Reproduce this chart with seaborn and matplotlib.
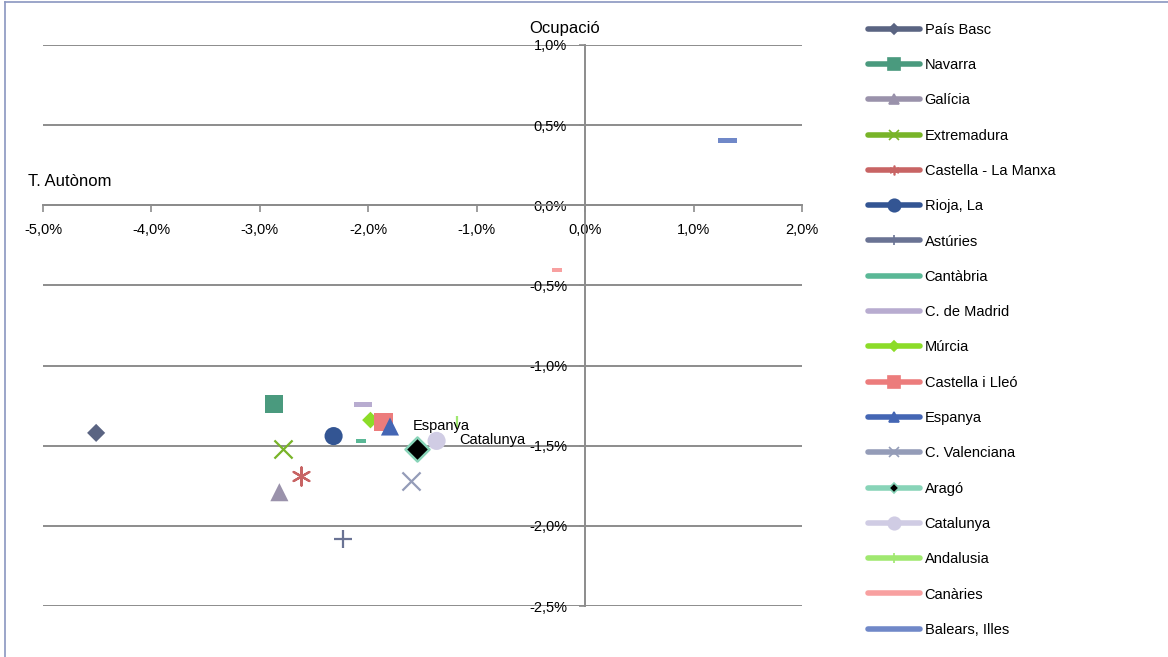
import matplotlib
matplotlib.use("Agg")
import matplotlib.pyplot as plt
import seaborn as sns
import pandas as pd
from matplotlib.lines import Line2D
from matplotlib.ticker import FuncFormatter, MultipleLocator

regions = ["País Basc", "Navarra", "Galícia", "Extremadura", "Castella - La Manxa",
           "Rioja, La", "Astúries", "Cantàbria", "C. de Madrid", "Múrcia",
           "Castella i Lleó", "Espanya", "C. Valenciana", "Aragó", "Catalunya",
           "Andalusia", "Canàries", "Balears, Illes"]
# T. Autònom (x, %) and Ocupació (y, %)
autonom = [-4.51, -2.87, -2.82, -2.79, -2.62, -2.32, -2.23, -2.07, -2.05, -1.98,
           -1.86, -1.80, -1.61, -1.55, -1.37, -1.18, -0.26, 1.31]
ocupacio = [-1.42, -1.24, -1.79, -1.52, -1.69, -1.44, -2.08, -1.47, -1.24, -1.34,
            -1.35, -1.38, -1.72, -1.52, -1.47, -1.35, -0.405, 0.405]
labelled = ["Espanya", "Catalunya"]

colors = ["#5a6482", "#4a9a7e", "#9a92ab", "#78b428", "#c86464", "#335593",
          "#6a7394", "#5ab896", "#b8acd0", "#8cdc28", "#ec7c7c", "#4466b4",
          "#949cb8", "#000000", "#d0cce4", "#a0e870", "#f8a0a0", "#7088c8"]
line_colors = list(colors)
line_colors[13] = "#88d4b8"

dash = [(-1, -0.28), (1, -0.28), (1, 0.28), (-1, 0.28), (-1, -0.28)]
dash_small = [(-1, -0.4), (1, -0.4), (1, 0.4), (-1, 0.4), (-1, -0.4)]
markers = ["D", "s", "^", "x", (6, 2, 0), "o", "+", dash_small, dash, "D",
           "s", "^", "x", "D", "o", "|", dash_small, dash]
sizes = [85, 170, 170, 170, 170, 170, 150, 55, 170, 72, 170, 170, 170, 150, 170, 75, 60, 180]

df = pd.DataFrame({"region": regions, "x": autonom, "y": ocupacio})

plt.rcParams["font.family"] = ["Liberation Sans Narrow", "Liberation Sans", "DejaVu Sans"]

fig = plt.figure(figsize=(11.68, 6.57), dpi=100)
ax = fig.add_axes([43 / 1168, 1 - 606 / 657, (802 - 43) / 1168, (606 - 45) / 657])

grid_c = "#8c8c8c"
for i, r in enumerate(regions):
    sub = df[df.region == r]
    m = markers[i]
    kw = dict(marker=m, s=sizes[i], color=colors[i], ax=ax, legend=False, zorder=5)
    if isinstance(m, str) and m in ("x", "+", "|"):
        kw["linewidth"] = 1.6
    elif isinstance(m, tuple):
        kw["linewidth"] = 1.6
    elif r == "Aragó":
        kw["edgecolor"] = line_colors[i]
        kw["linewidth"] = 1.8
    else:
        kw["edgecolor"] = "none"
        kw["linewidth"] = 0
    sns.scatterplot(data=sub, x="x", y="y", **kw)

for r in labelled:
    row = df[df.region == r].iloc[0]
    dy = 0 if r == "Espanya" else 0.5
    ax.annotate(r, (row.x, row.y), xytext=(16.5, dy), textcoords="offset points",
                ha="left", va="center", fontsize=10.5, color="#000000", zorder=6)

ax.set_xlim(-5, 2)
ax.set_ylim(-2.5, 1.0)
ax.xaxis.set_major_locator(MultipleLocator(1))
ax.yaxis.set_major_locator(MultipleLocator(0.5))
fmt = FuncFormatter(lambda v, p: f"{v:.1f}%".replace(".", ","))
ax.xaxis.set_major_formatter(fmt)
ax.yaxis.set_major_formatter(fmt)
ax.set_xlabel("")
ax.set_ylabel("")

for s in ["top", "right"]:
    ax.spines[s].set_visible(False)
ax.spines["bottom"].set_position(("data", 0))
ax.spines["left"].set_position(("data", 0))
for s in ["bottom", "left"]:
    ax.spines[s].set_color(grid_c)
    ax.spines[s].set_linewidth(1.4)
ax.grid(axis="y", color=grid_c, linewidth=1.4)
ax.grid(axis="x", visible=False)
ax.set_axisbelow(True)
ax.tick_params(axis="x", direction="out", length=5, color=grid_c, width=1.2,
               labelsize=10.5, pad=8)
ax.tick_params(axis="y", direction="out", length=4, color=grid_c, width=1.2,
               labelsize=10.5, pad=9)

fig.text(565 / 1168, 1 - 28 / 657, "Ocupació", ha="center", va="center", fontsize=12)
fig.text(28 / 1168, 1 - 182 / 657, "T. Autònom", ha="left", va="center", fontsize=12)

# border of the chart area
fig.add_artist(Line2D([5 / 1168, 1], [1 - 2 / 657, 1 - 2 / 657], transform=fig.transFigure,
                      color="#8a96c0", lw=1.2))
fig.add_artist(Line2D([5 / 1168, 5 / 1168], [0, 1 - 2 / 657], transform=fig.transFigure,
                      color="#8a96c0", lw=1.2))

handles = []
for i, r in enumerate(regions):
    m = markers[i]
    ms = 7
    if isinstance(m, list):
        m = "None"
    mfc = colors[i]
    mec = line_colors[i] if r == "Aragó" else colors[i]
    if r in ("Navarra", "Castella i Lleó", "Rioja, La", "Catalunya"):
        ms = 9
    if r in ("País Basc", "Múrcia", "Aragó"):
        ms = 5
    handles.append(Line2D([0], [0], color=line_colors[i], lw=4, marker=m, markersize=ms,
                          markerfacecolor=mfc, markeredgecolor=mec, markeredgewidth=1.2,
                          solid_capstyle="round"))
fig.legend(handles, regions, loc="upper left", bbox_to_anchor=(862 / 1168, 1 - 17 / 657),
           frameon=False, fontsize=10.5, handlelength=3.6, handletextpad=0.3,
           labelspacing=1.46, borderaxespad=0)

fig.savefig("out.png", dpi=100)
